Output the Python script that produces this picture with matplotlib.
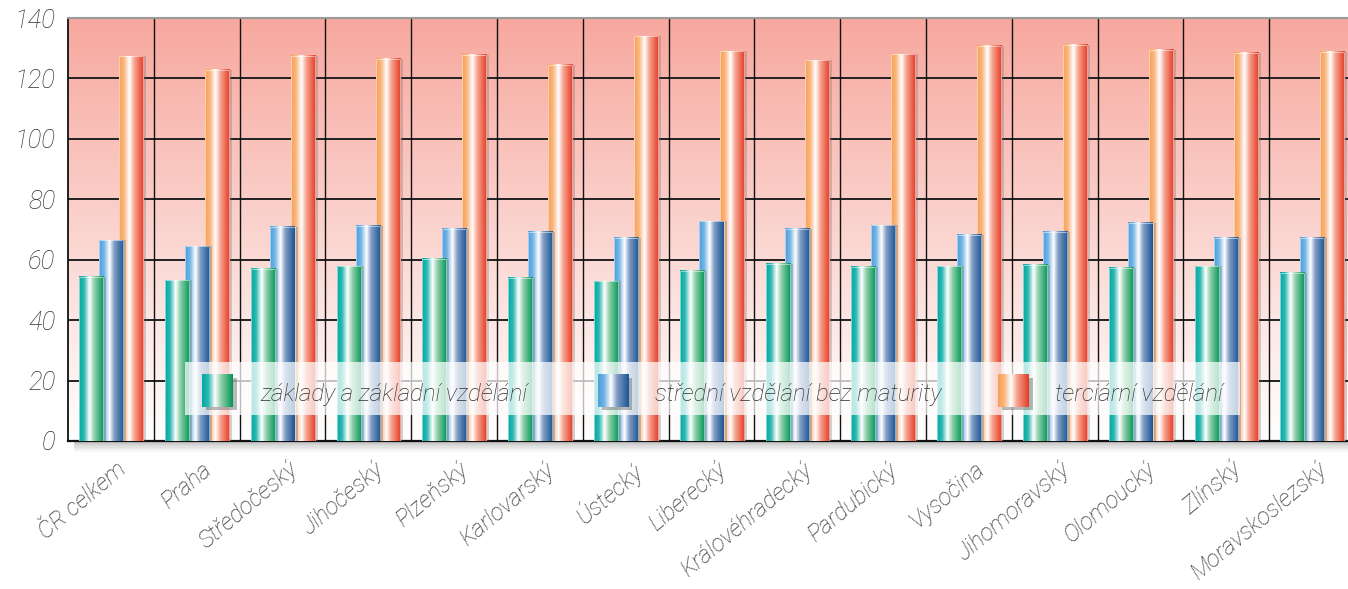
import numpy as np
import matplotlib
matplotlib.use('Agg')
import matplotlib.pyplot as plt
import matplotlib.transforms as mtrans
from matplotlib.colors import LinearSegmentedColormap
from matplotlib.patches import Rectangle

regions = ['ČR celkem', 'Praha', 'Středočeský', 'Jihočeský', 'Plzeňský', 'Karlovarský',
           'Ústecký', 'Liberecký', 'Královéhradecký', 'Pardubický', 'Vysočina',
           'Jihomoravský', 'Olomoucký', 'Zlínský', 'Moravskoslezský']
zakladni = [54.3, 53.2, 57.0, 57.8, 60.3, 54.0, 52.9, 56.3, 58.7, 57.6, 57.8, 58.3, 57.3, 57.8, 55.7]
stredni = [66.5, 64.5, 70.9, 71.2, 70.2, 69.3, 67.3, 72.8, 70.3, 71.4, 68.3, 69.3, 72.2, 67.2, 67.2]
terciarni = [127.3, 122.8, 127.5, 126.5, 127.9, 124.5, 134.0, 129.0, 126.0, 128.0, 130.8, 131.2, 129.5, 128.5, 128.8]
series_names = ['základy a základní vzdělání', 'střední vzdělání bez maturity', 'terciární vzdělání']
yticks = [0, 20, 40, 60, 80, 100, 120, 140]

font = ['Roboto', 'DejaVu Sans']
fw = 'light'
txt_color = '#333333'

# cylinder-like gradients for the bars
cmaps = [
    LinearSegmentedColormap.from_list('g', [(0, '#00aaa4'), (0.2, '#2db8b0'), (0.42, '#ffffff'),
                                            (0.62, '#8fcfa9'), (1, '#009656')]),
    LinearSegmentedColormap.from_list('b', [(0, '#4a9fdc'), (0.2, '#74b4e4'), (0.42, '#ffffff'),
                                            (0.62, '#7f9cc4'), (1, '#1b5594')]),
    LinearSegmentedColormap.from_list('o', [(0, '#f8a050'), (0.2, '#fab680'), (0.42, '#ffffff'),
                                            (0.62, '#f6a38e'), (1, '#e43a25')]),
]
bg_cmap = LinearSegmentedColormap.from_list('bg', ['#ffffff', '#f7a89e'])
grad = np.linspace(0, 1, 128).reshape(1, -1)

fig = plt.figure(figsize=(13.48, 5.89), dpi=100)
ax = fig.add_axes([68 / 1348, 1 - 441 / 589, 1280 / 1348, 423 / 589])

# background gradient
ax.imshow(np.linspace(0, 1, 256).reshape(-1, 1), extent=[0, 1, 0, 1], transform=ax.transAxes,
          origin='lower', cmap=bg_cmap, aspect='auto', zorder=0)

x = np.arange(len(regions))
offsets = [-0.23, 0.0, 0.235]
width = 0.28
for i, vals in enumerate([zakladni, stredni, terciarni]):
    z = 6 - i
    ax.bar(x + offsets[i] + 0.035, vals, width, color='#6b6b6b', alpha=0.3, zorder=z - 0.5, lw=0)
    bars = ax.bar(x + offsets[i], vals, width, color='none', edgecolor='#ffffff', lw=0.6,
                  alpha=0.6, zorder=z + 0.1)
    for b in bars:
        ax.imshow(grad, cmap=cmaps[i], aspect='auto', zorder=z,
                  extent=[b.get_x(), b.get_x() + b.get_width(), 0, b.get_height()])

# grid
for yv in yticks[1:]:
    ax.axhline(yv, color='#222222', lw=1.4, zorder=1)
ax.vlines(np.arange(len(regions)) + 0.5, 0, 140, color='#111111', lw=1.0, zorder=1)

ax.set_yticks(yticks)
ax.set_yticklabels([str(v) for v in yticks], fontsize=18.5, style='italic', fontweight=fw,
                   family=font, color=txt_color)
ax.set_xticks(x)
ax.set_xticklabels(regions, rotation=40, ha='right', rotation_mode='anchor', fontsize=17,
                   style='italic', fontweight=fw, family=font, color=txt_color)
ax.tick_params(axis='both', length=0)
ax.tick_params(axis='y', pad=9)
ax.tick_params(axis='x', pad=12)
shift = mtrans.ScaledTranslation(5 / 100, 0, fig.dpi_scale_trans)
for lab in ax.get_xticklabels():
    lab.set_transform(lab.get_transform() + shift)

ax.spines['right'].set_visible(False)
ax.spines['top'].set_color('#9a9a9a')
ax.spines['top'].set_linewidth(1.5)
ax.spines['left'].set_color('#111111')
ax.spines['bottom'].set_color('#111111')
ax.spines['left'].set_linewidth(1.3)
ax.spines['bottom'].set_linewidth(1.6)

# shadow under the bottom axis
for k in range(8):
    ax.add_patch(Rectangle((0.005, -0.004 - k * 0.003), 0.995, 0.003, transform=ax.transAxes,
                           color='#555555', alpha=0.35 * (1 - k / 8), lw=0, clip_on=False))

# legend
ax.add_patch(Rectangle((0.0914, 0.0615), 0.8242, 0.1253, transform=ax.transAxes,
                       facecolor='#ffffff', alpha=0.72, lw=0, zorder=10))
sw_x = [0.1047, 0.414, 0.7266]
tx_x = [0.150, 0.4586, 0.7711]
for i in range(3):
    ax.add_patch(Rectangle((sw_x[i] + 0.003, 0.073), 0.024, 0.076, transform=ax.transAxes,
                           facecolor='#555555', alpha=0.4, lw=0, zorder=11))
    ax.imshow(grad, cmap=cmaps[i], aspect='auto', transform=ax.transAxes, zorder=12,
              extent=[sw_x[i], sw_x[i] + 0.024, 0.080, 0.156])
    ax.text(tx_x[i], 0.109, series_names[i], transform=ax.transAxes, fontsize=17.3,
            style='italic', fontweight=fw, family=font, color='#2e2e2e',
            va='center', ha='left', zorder=13)

ax.set_xlim(-0.5, -0.5 + 1280 / 85.8)
ax.set_ylim(0, 140)

fig.savefig('out.png', dpi=100)
